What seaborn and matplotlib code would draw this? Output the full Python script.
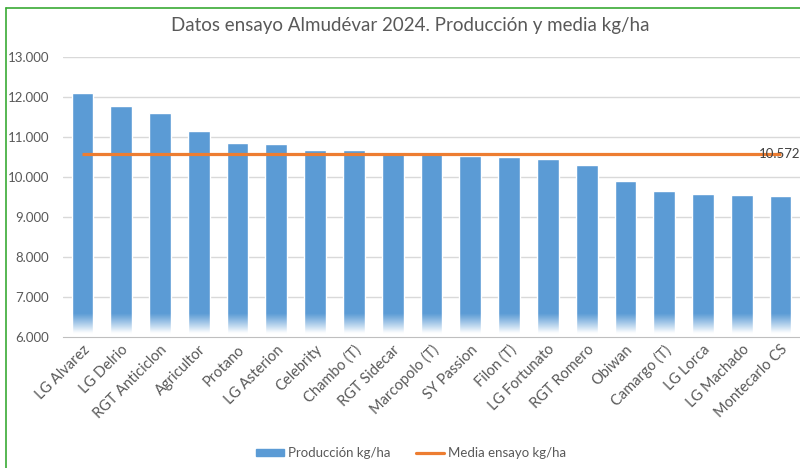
import numpy as np
import matplotlib
matplotlib.use("Agg")
import matplotlib.pyplot as plt
import seaborn as sns
from matplotlib.lines import Line2D
from matplotlib.ticker import FuncFormatter

# Datos
variedades = ['LG Alvarez', 'LG Delrio', 'RGT Anticiclon', 'Agricultor', 'Protano',
              'LG Asterion', 'Celebrity', 'Chambo (T)', 'RGT Sidecar', 'Marcopolo (T)',
              'SY Passion', 'Filon (T)', 'LG Fortunato', 'RGT Romero', 'Obiwan',
              'Camargo (T)', 'LG Lorca', 'LG Machado', 'Montecarlo CS']
produccion = [12095, 11775, 11595, 11140, 10840, 10820, 10665, 10665, 10635, 10595,
              10515, 10500, 10450, 10305, 9900, 9650, 9580, 9540, 9525]
media = 10572
y_ticks = [6000, 7000, 8000, 9000, 10000, 11000, 12000, 13000]

azul = '#5b9bd5'
naranja = '#ed7d31'
gris = '#595959'

sns.set_style('white')
plt.rcParams['font.family'] = ['Lato', 'DejaVu Sans']

fig = plt.figure(figsize=(8, 4.68), dpi=100)
ax = fig.add_axes([63 / 800, 131 / 468, 737 / 800, 280 / 468])

sns.barplot(x=variedades, y=produccion, color=azul, saturation=1, width=0.56,
            ax=ax, zorder=2, legend=False)
n = len(variedades)
ax.plot(range(n), [media] * n, color=naranja, lw=2.3, zorder=3, solid_capstyle='butt')
ax.text(n - 0.5, media, f"{media:,}".replace(',', '.'), ha='right', va='center',
        fontsize=9.5, color='#404040', zorder=4)

# degradado blanco en la base de las barras
alpha = np.clip(np.linspace(0, 1, 100) * 1.2, 0, 1) ** 1.1
grad = np.ones((100, 1, 4))
grad[:, 0, 3] = alpha
ax.imshow(grad, extent=[-0.5, n - 0.5, 6000, 6600], aspect='auto', zorder=2.2)

ax.set_xlim(-0.5, n - 0.5)
ax.set_ylim(6000, 13000)
ax.set_yticks(y_ticks)
ax.yaxis.set_major_formatter(FuncFormatter(lambda v, p: f"{v:,.0f}".replace(',', '.')))
ax.grid(axis='y', color='#d9d9d9', lw=1)
ax.set_axisbelow(True)
for s in ['top', 'right', 'left']:
    ax.spines[s].set_visible(False)
ax.spines['bottom'].set_color('#bfbfbf')
ax.spines['bottom'].set_zorder(2.5)
ax.tick_params(axis='both', length=0, colors=gris)
ax.tick_params(axis='y', pad=10, labelsize=9.5)
ax.tick_params(axis='x', pad=4, labelsize=10.5)
plt.setp(ax.get_xticklabels(), rotation=45, ha='right', rotation_mode='anchor')

fig.text(0.513, 0.946, 'Datos ensayo Almudévar 2024. Producción y media kg/ha',
         ha='center', va='center', fontsize=13.5, color=gris)

handles = [plt.Rectangle((0, 0), 1, 1, color=azul),
           Line2D([], [], color=naranja, lw=2.3)]
fig.legend(handles, ['Producción kg/ha', 'Media ensayo kg/ha'], loc='center',
           bbox_to_anchor=(0.514, 0.032), ncol=2, frameon=False, fontsize=9.5,
           handlelength=2.1, handleheight=0.5, handletextpad=0.35,
           columnspacing=1.9, labelcolor=gris)

# borde verde
fig.add_artist(Line2D([6 / 800, 6 / 800], [0, 1 - 8 / 468], color='#3aaa35', lw=1.2))
fig.add_artist(Line2D([6 / 800, 1], [1 - 8 / 468, 1 - 8 / 468], color='#3aaa35', lw=1.2))

fig.savefig('out.png', dpi=100, facecolor='white')
